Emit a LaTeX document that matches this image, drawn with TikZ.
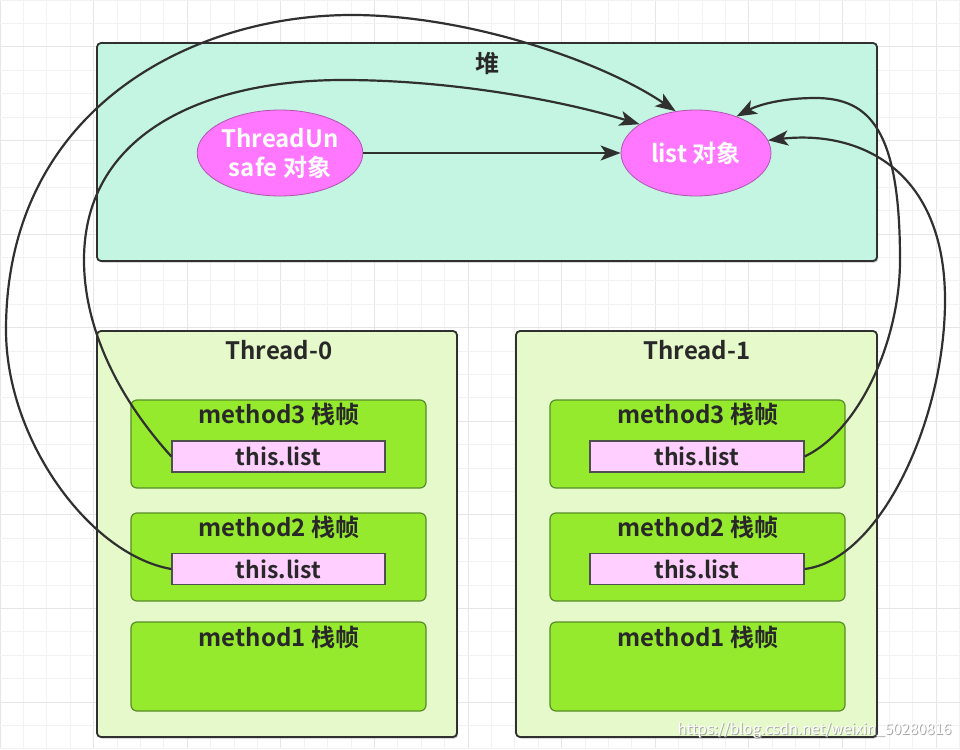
\documentclass[tikz,border=0pt]{standalone}
\usepackage{fontspec}
\setmainfont{Noto Sans CJK SC}[BoldFont={Noto Sans CJK SC Bold}]
\usetikzlibrary{arrows.meta,shapes.geometric,shadows}
\definecolor{heapfill}{RGB}{196,245,226}
\definecolor{thrfill}{RGB}{230,249,203}
\definecolor{frmfill}{RGB}{150,234,46}
\definecolor{frmdraw}{RGB}{88,140,40}
\definecolor{listfill}{RGB}{255,208,255}
\definecolor{ellfill}{RGB}{255,119,255}
\definecolor{ellline}{RGB}{175,85,175}
\definecolor{ink}{RGB}{48,48,48}
\definecolor{txt}{RGB}{40,40,40}
\definecolor{gridminor}{RGB}{242,242,242}
\definecolor{gridmajor}{RGB}{230,230,230}
\tikzset{
  box/.style={draw=ink, line width=1.8pt, rounded corners=4pt, inner sep=0pt,
    drop shadow={shadow xshift=1.2pt, shadow yshift=-1.6pt, opacity=0.45}},
  heapbox/.style={box, fill=heapfill},
  thrbox/.style={box, fill=thrfill, minimum width=360pt, minimum height=406pt},
  frmbox/.style={draw=frmdraw, line width=1.2pt, fill=frmfill, rounded corners=6pt,
    minimum width=295pt, inner sep=0pt},
  listbox/.style={draw=ink!85, line width=1.2pt, fill=listfill, minimum width=213pt,
    minimum height=31pt, inner sep=0pt, font=\bfseries\fontsize{23}{26}\selectfont, text=txt},
  ell/.style={ellipse, draw=ellline, line width=0.8pt, fill=ellfill, minimum width=150pt,
    minimum height=86pt, inner sep=0pt, align=center, text=white,
    font=\bfseries\fontsize{24}{29}\selectfont},
  title/.style={font=\bfseries\fontsize{24}{27}\selectfont, text=txt, inner sep=0pt},
  conn/.style={draw=ink, line width=2.2pt, -{Stealth[length=20pt,width=15pt,inset=5pt]}},
}
\begin{document}
\begin{tikzpicture}[x=1pt,y=-1pt]
\useasboundingbox (0,0) rectangle (960,749);
\fill[white] (0,0) rectangle (960,749);
% background grid
\foreach \i in {0,...,41} {
  \pgfmathtruncatemacro\m{mod(\i,4)}
  \ifnum\m=0 \draw[gridmajor, line width=0.9pt] (\i*23.4,0) -- (\i*23.4,749);
  \else \draw[gridminor, line width=0.9pt] (\i*23.4,0) -- (\i*23.4,749); \fi
}
\foreach \j in {0,...,32} {
  \pgfmathtruncatemacro\m{mod(\j,4)}
  \ifnum\m=2 \draw[gridmajor, line width=0.9pt] (0,\j*23.4) -- (960,\j*23.4);
  \else \draw[gridminor, line width=0.9pt] (0,\j*23.4) -- (960,\j*23.4); \fi
}
% heap
\node[heapbox, minimum width=780pt, minimum height=218pt] (heap) at (487,152) {};
\node[title] (heapT) at (487,63) {堆};
\node[ell] (tu) at (280,153) {ThreadUn\\safe 对象};
\node[ell] (lst) at (696,153) {list 对象};
% threads
\node[thrbox] (th0) at (277,534) {};
\node[thrbox, minimum width=361pt] (th1) at (696.5,534) {};
\node[title] (th0T) at (279,350) {Thread-0};
\node[title] (th1T) at (697,350) {Thread-1};
% thread-0 frames
\node[frmbox, minimum height=88pt] (a3) at (278.5,444) {};
\node[frmbox, minimum height=88pt] (a2) at (278.5,557) {};
\node[frmbox, minimum height=89pt] (a1) at (278.5,666.5) {};
\node[title] (a3T) at (279,414) {method3 栈帧};
\node[title] (a2T) at (279,527) {method2 栈帧};
\node[title] (a1T) at (279,637) {method1 栈帧};
\node[listbox] (a3l) at (278.5,456.5) {this.list};
\node[listbox] (a2l) at (278.5,569) {this.list};
% thread-1 frames
\node[frmbox, minimum height=88pt] (b3) at (697.5,444) {};
\node[frmbox, minimum height=88pt] (b2) at (697.5,557) {};
\node[frmbox, minimum height=89pt] (b1) at (697.5,666.5) {};
\node[title] (b3T) at (698,414) {method3 栈帧};
\node[title] (b2T) at (698,527) {method2 栈帧};
\node[title] (b1T) at (698,637) {method1 栈帧};
\node[listbox, minimum width=214pt] (b3l) at (697,456.5) {this.list};
\node[listbox, minimum width=214pt] (b2l) at (697,569) {this.list};
% connectors
\draw[conn] (tu.east) -- (lst.west);
\draw[conn] (a3l.west) .. controls (120,400) and (84,330) .. (84,260)
  .. controls (84,130) and (210,80) .. (343,80)
  .. controls (450,80) and (560,100) .. (lst.153);
\draw[conn] (a2l.west) .. controls (90,555) and (6,440) .. (6,330)
  .. controls (6,110) and (190,15) .. (352,15)
  .. controls (465,15) and (600,60) .. (lst.116);
\draw[conn] (b3l.east) .. controls (860,430) and (900,340) .. (900,260)
  .. controls (900,130) and (870,98) .. (815,98)
  .. controls (785,98) and (760,104) .. (lst.42);
\draw[conn] (b2l.east) .. controls (880,560) and (945,420) .. (945,300)
  .. controls (945,170) and (860,130) .. (lst.10);
% watermark
\node[text=gray!70, font=\fontsize{15}{18}\selectfont, inner sep=0pt] (wm0) at (815.5,731) {https://blog.csdn.net/weixin\_50280816};
\node[text=white, font=\fontsize{15}{18}\selectfont, inner sep=0pt] (wm) at (814.5,730) {https://blog.csdn.net/weixin\_50280816};
\end{tikzpicture}
\end{document}
